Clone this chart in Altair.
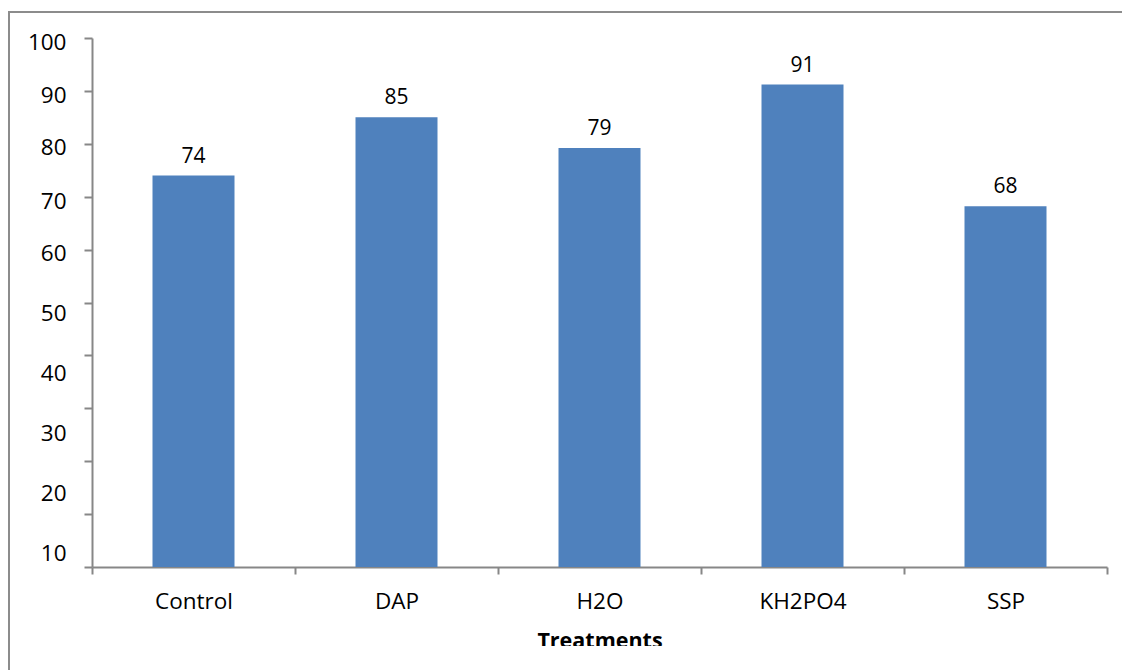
import altair as alt
import pandas as pd

treatments = ["Control", "DAP", "H2O", "KH2PO4", "SSP"]
values = [74.0, 85.0, 79.2, 91.2, 68.2]
labels = ["74", "85", "79", "91", "68"]
y_ticks = [0, 10, 20, 30, 40, 50, 60, 70, 80, 90, 100]
y_label_values = [10, 20, 30, 40, 50, 60, 70, 80, 90, 100]
# where the reference puts each y label (pixels from the plot top)
y_label_pos = [515, 455, 395, 335, 275, 215, 163, 109, 57, 4]

df = pd.DataFrame({"Treatment": treatments, "Value": values, "Label": labels})

FONT = "Open Sans"
GREY = "#878787"

x_enc = alt.X(
    "Treatment:N",
    sort=treatments,
    scale=alt.Scale(paddingInner=0, paddingOuter=0),
    axis=alt.Axis(
        title="Treatments",
        titleFont=FONT,
        titleFontSize=21.5,
        titleFontWeight="bold",
        titleColor="#000000",
        titlePadding=18,
        labelAngle=0,
        labelFont=FONT,
        labelFontSize=22.5,
        labelColor="#000000",
        labelPadding=16,
        tickBand="extent",
        tickSize=7,
        tickColor=GREY,
        tickWidth=2,
        domainColor=GREY,
        domainWidth=2,
        grid=False,
    ),
)

y_enc = alt.Y(
    "Value:Q",
    scale=alt.Scale(domain=[0, 100], nice=False),
    axis=alt.Axis(
        title=None,
        values=y_ticks,
        labels=False,
        tickSize=8,
        tickColor=GREY,
        tickWidth=2,
        domainColor=GREY,
        domainWidth=2,
        grid=False,
    ),
)

bars = alt.Chart(df).mark_bar(size=82, color="#4F81BD").encode(x=x_enc, y=y_enc)

text = alt.Chart(df).mark_text(
    baseline="alphabetic", dy=-13, font=FONT, fontSize=21, color="#000000"
).encode(x=alt.X("Treatment:N", sort=treatments), y="Value:Q", text="Label:N")

main = alt.layer(bars, text)

label_axis = alt.Chart(df).mark_point(opacity=0).encode(
    y=alt.Y(
        "Value:Q",
        scale=alt.Scale(domain=y_label_values, range=y_label_pos),
        axis=alt.Axis(
            orient="left",
            title=None,
            values=y_label_values,
            ticks=False,
            tickSize=0,
            domain=False,
            grid=False,
            labelFont=FONT,
            labelFontSize=22.5,
            labelColor="#000000",
            labelPadding=26,
        ),
    )
)

border = alt.Chart(pd.DataFrame({"a": [0]})).mark_rect(
    fillOpacity=0, stroke="#8c8c8c", strokeWidth=2
).encode(
    x=alt.value(-83), x2=alt.value(1060), y=alt.value(-26), y2=alt.value(680)
)

cover = alt.Chart(pd.DataFrame({"a": [0]})).mark_rect(color="white").encode(
    x=alt.value(-72), x2=alt.value(1060), y=alt.value(608), y2=alt.value(680)
)

chart = (
    alt.layer(border, main, label_axis, cover)
    .resolve_scale(y="independent")
    .properties(
        width=1015,
        height=529,
        autosize=alt.AutoSizeParams(type="none"),
        padding={"left": 92, "top": 38, "right": 15, "bottom": 103},
        background="white",
    )
    .configure_view(stroke=None)
)

chart.save("out.html", embed_options={"renderer": "svg", "actions": False})
